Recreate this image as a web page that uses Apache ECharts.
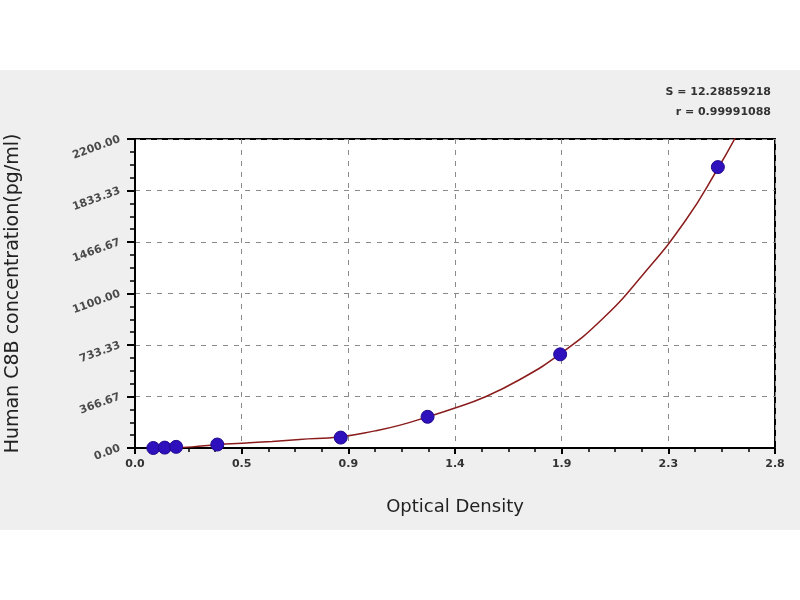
<!DOCTYPE html>
<html>
<head>
<meta charset="utf-8">
<script src="https://cdn.jsdelivr.net/npm/echarts@6/dist/echarts.min.js"></script>
<style>
html,body{margin:0;padding:0;background:#fff;}
#c{width:800px;height:600px;}
</style>
</head>
<body>
<div id="c"></div>
<script>
// Standard points (optical density, concentration pg/ml)
const standardOD = [0.08, 0.13, 0.18, 0.36, 0.90, 1.28, 1.86, 2.55];
const standardConc = [0, 2.74, 8.23, 24.7, 74.1, 222.2, 666.7, 2000];

// Fitted curve
const curveOD = [0.17, 0.25, 0.36, 0.47, 0.60, 0.72, 0.90, 1.05, 1.16, 1.28, 1.40, 1.52, 1.68, 1.86, 2.04, 2.22, 2.41, 2.55, 2.63];
const curveConc = [1, 8, 24, 34, 47, 61, 80, 122, 163, 222, 285, 356, 484, 670, 911, 1230, 1623, 1990, 2220];

// Axis tick labels
const xTickLabels = ['0.0', '0.5', '0.9', '1.4', '1.9', '2.3', '2.8'];
const yTickLabels = ['0.00', '366.67', '733.33', '1100.00', '1466.67', '1833.33', '2200.00'];

const statsLines = ['S = 12.28859218', 'r = 0.99991088'];

const FONT = '"DejaVu Sans", Verdana, sans-serif';
const chart = echarts.init(document.getElementById('c'));
const xMax = 2.8, yMax = 2200;
chart.setOption({
  backgroundColor: '#ffffff',
  animation: false,
  graphic: [
    { type: 'rect', shape: { x: 0, y: 70, width: 800, height: 460 }, style: { fill: '#efefef' }, z: -10, silent: true },
    { type: 'text', x: 771, y: 87, style: { text: statsLines[0], fill: '#333', font: 'bold 11px ' + FONT, textAlign: 'right' } },
    { type: 'text', x: 771, y: 107, style: { text: statsLines[1], fill: '#333', font: 'bold 11px ' + FONT, textAlign: 'right' } }
  ],
  grid: {
    left: 135, right: 25, top: 139, bottom: 152,
    containLabel: false, outerBoundsMode: 'none',
    show: true, backgroundColor: '#ffffff', borderColor: '#000', borderWidth: 2
  },
  xAxis: {
    type: 'value', min: 0, max: xMax, interval: xMax / 6,
    name: 'Optical Density', nameLocation: 'middle', nameGap: 50,
    nameTextStyle: { fontSize: 18, color: '#222', fontFamily: FONT },
    axisLine: { show: true, lineStyle: { color: '#000', width: 2 } },
    axisTick: { show: true, length: 6, lineStyle: { color: '#000', width: 2 } },
    minorTick: { show: true, splitNumber: 4, length: 4, lineStyle: { color: '#000', width: 1.5 } },
    axisLabel: {
      color: '#333', fontSize: 11, fontWeight: 'bold', margin: 11,
      fontFamily: FONT,
      formatter: (v) => xTickLabels[Math.round(v / (xMax / 6))]
    },
    splitLine: { show: true, lineStyle: { color: '#8a8a8a', type: [5, 6], width: 1 } }
  },
  yAxis: {
    type: 'value', min: 0, max: yMax, interval: yMax / 6,
    name: 'Human C8B concentration(pg/ml)', nameLocation: 'middle', nameGap: 112,
    nameTextStyle: { fontSize: 19, color: '#222', fontFamily: FONT },
    axisLine: { show: true, lineStyle: { color: '#000', width: 2 } },
    axisTick: { show: true, length: 8, lineStyle: { color: '#000', width: 2 } },
    minorTick: { show: true, splitNumber: 4, length: 5, lineStyle: { color: '#000', width: 1.5 } },
    axisLabel: {
      color: '#4a4a4a', fontSize: 11, fontWeight: 'bold', rotate: 20, margin: 15,
      fontFamily: FONT,
      formatter: (v) => yTickLabels[Math.round(v / (yMax / 6))]
    },
    splitLine: { show: true, lineStyle: { color: '#8a8a8a', type: [5, 6], width: 1 } }
  },
  series: [
    {
      type: 'line', smooth: true, showSymbol: false, symbol: 'none',
      data: curveOD.map((x, i) => [x, curveConc[i]]),
      lineStyle: { color: '#8b1c1c', width: 1.5 }, z: 2, clip: true
    },
    {
      type: 'scatter', symbol: 'circle', symbolSize: 13,
      data: standardOD.map((x, i) => [x, standardConc[i]]),
      itemStyle: { color: '#2f10bd', opacity: 1, borderColor: '#22098f', borderWidth: 1 }, z: 3
    }
  ]
});
</script>
</body>
</html>
